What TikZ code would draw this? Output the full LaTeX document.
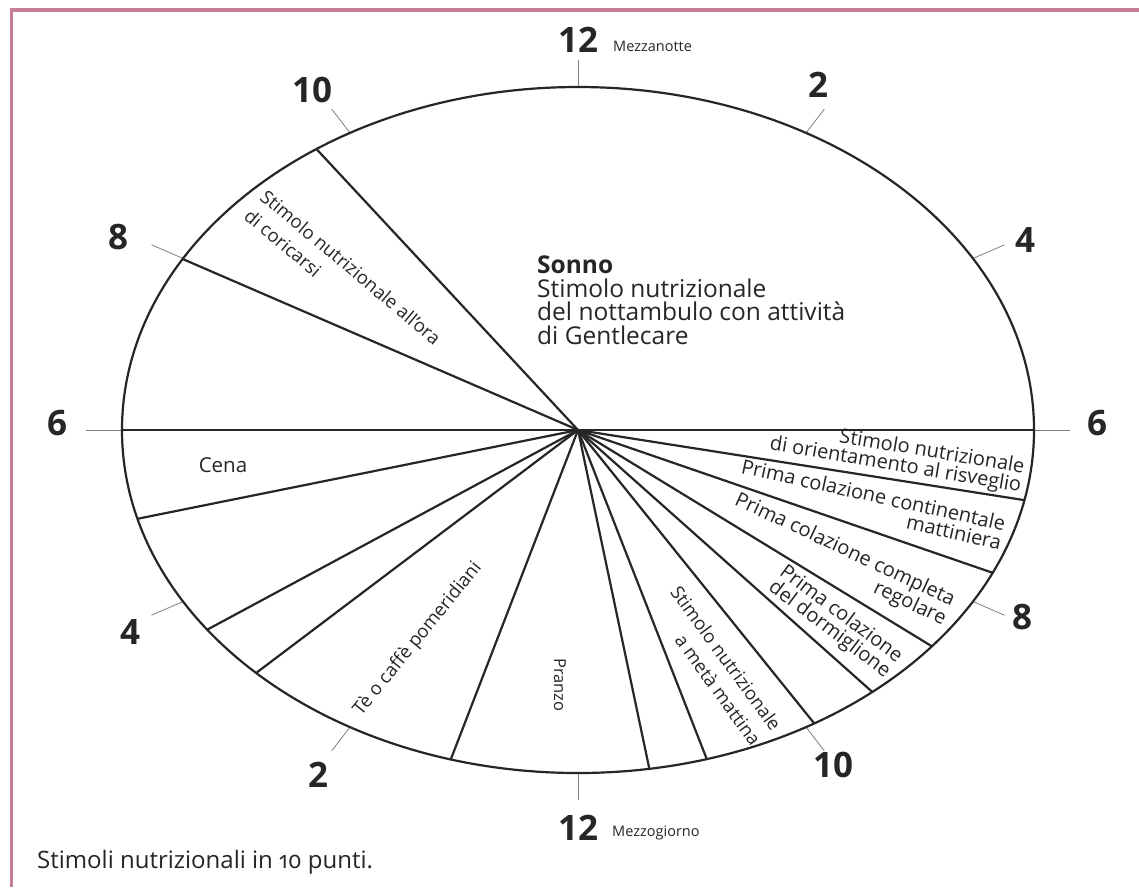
\documentclass[tikz,border=0pt]{standalone}
\usepackage{fontspec}
\setmainfont{Open Sans}
\definecolor{framecol}{RGB}{198,125,152}
\begin{document}
\begin{tikzpicture}[x=1pt,y=-1pt,
  spoke/.style={line width=2.2pt, draw=black!85},
  ticker/.style={line width=0.8pt, draw=black!50},
  hour/.style={font=\fontsize{35}{38}\selectfont\bfseries, text=black!85, inner sep=0pt},
  hourword/.style={font=\fontsize{14.5}{16}\selectfont, text=black!85, inner sep=0pt},
  smalllbl/.style={font=\fontsize{18.5}{25}\selectfont, text=black!85, inner sep=0pt},
  midlbl/.style={font=\fontsize{20}{19}\selectfont, text=black!85, inner sep=0pt},
  biglbl/.style={font=\fontsize{24.5}{23.5}\selectfont, text=black!85, inner sep=0pt},
]
\useasboundingbox (0,0) rectangle (1139,887);
\fill[white] (0,0) rectangle (1139,887);
\draw[framecol, line width=3.5pt] (11.5,887) -- (11.5,10) -- (1139,10);

\coordinate (O) at (578,430);
% spokes
\foreach \n/\t in {a/125, b/150.1, c/180, d/195, e/215.6, f/225.1, g/253.8, h/279, i/286.4, j/301.2, k/310.2, l/320.9, m/335.4, n/348.2, o/360}{
  \coordinate (\n) at ({578+456*cos(\t)},{430-343*sin(\t)});
  \draw[spoke] (O) -- (\n);
}
% hour ticks
\foreach \i/\t in {1/90,2/60,3/30,4/0,5/-30,6/-60,7/-90,8/-120,9/-150,10/-180,11/-210,12/-240}{
  \coordinate (p\i) at ({578+456*cos(\t)},{430-343*sin(\t)});
  \coordinate (q\i) at ({578+1.08*456*cos(\t)},{430-1.08*343*sin(\t)});
  \draw[ticker] (p\i) -- (q\i);
}
\draw[spoke] (O) ellipse [x radius=456pt, y radius=343pt];

% hour labels
\node[hour] (h12a) at (578,40) {12};
\node[hourword, anchor=west] (mn) at (613,46) {Mezzanotte};
\node[hour] (h2a) at (818,85) {2};
\node[hour] (h4a) at (1025,240) {4};
\node[hour] (h6a) at (1097,423) {6};
\node[hour] (h8a) at (1022,617) {8};
\node[hour] (h10a) at (833,765) {10};
\node[hour] (h12b) at (578,828) {12};
\node[hourword, anchor=west] (mg) at (612,833) {Mezzogiorno};
\node[hour] (h2b) at (318,775) {2};
\node[hour] (h4b) at (130,632) {4};
\node[hour] (h6b) at (57,423) {6};
\node[hour] (h8b) at (118,237) {8};
\node[hour] (h10b) at (312,90) {10};

% sector labels
\node[biglbl, anchor=north west, align=left] (sonno) at (537,256)
  {\textbf{Sonno}\\Stimolo nutrizionale\\del nottambulo con attività\\di Gentlecare};
\node[smalllbl, rotate=-40, align=left, anchor=north west] (cori) at (268,188)
  {Stimolo nutrizionale all'ora\\di coricarsi};
\node[smalllbl, font=\fontsize{20.5}{22}\selectfont] (cena) at (223,465) {Cena};
\node[smalllbl, rotate=51] (te) at (418,639) {Tè o caffè pomeridiani};
\node[smalllbl, font=\fontsize{16.5}{20}\selectfont, rotate=-90] (pranzo) at (560,685) {Pranzo};
\node[smalllbl, rotate=-54, align=right, anchor=north east] (meta) at (783,724)
  {Stimolo nutrizionale\\a metà mattina};
\node[midlbl, rotate=-9.5, align=right, anchor=north east] (risv) at (1026,458)
  {Stimolo nutrizionale\\di orientamento al risveglio};
\node[midlbl, rotate=-12.4, align=right, anchor=north east] (cont) at (1007,516)
  {Prima colazione continentale\\mattiniera};
\node[midlbl, rotate=-25, align=right, anchor=north east] (comp) at (958,592)
  {Prima colazione completa\\regolare};
\node[midlbl, rotate=-37, align=center] (dorm) at (835,622)
  {Prima colazione\\del dormiglione};

% caption
\node[font=\fontsize{24}{26}\selectfont\addfontfeatures{Numbers=OldStyle}, text=black!85, anchor=west, inner sep=0pt] (cap) at (37,862)
  {Stimoli nutrizionali in 10 punti.};
\end{tikzpicture}
\end{document}
